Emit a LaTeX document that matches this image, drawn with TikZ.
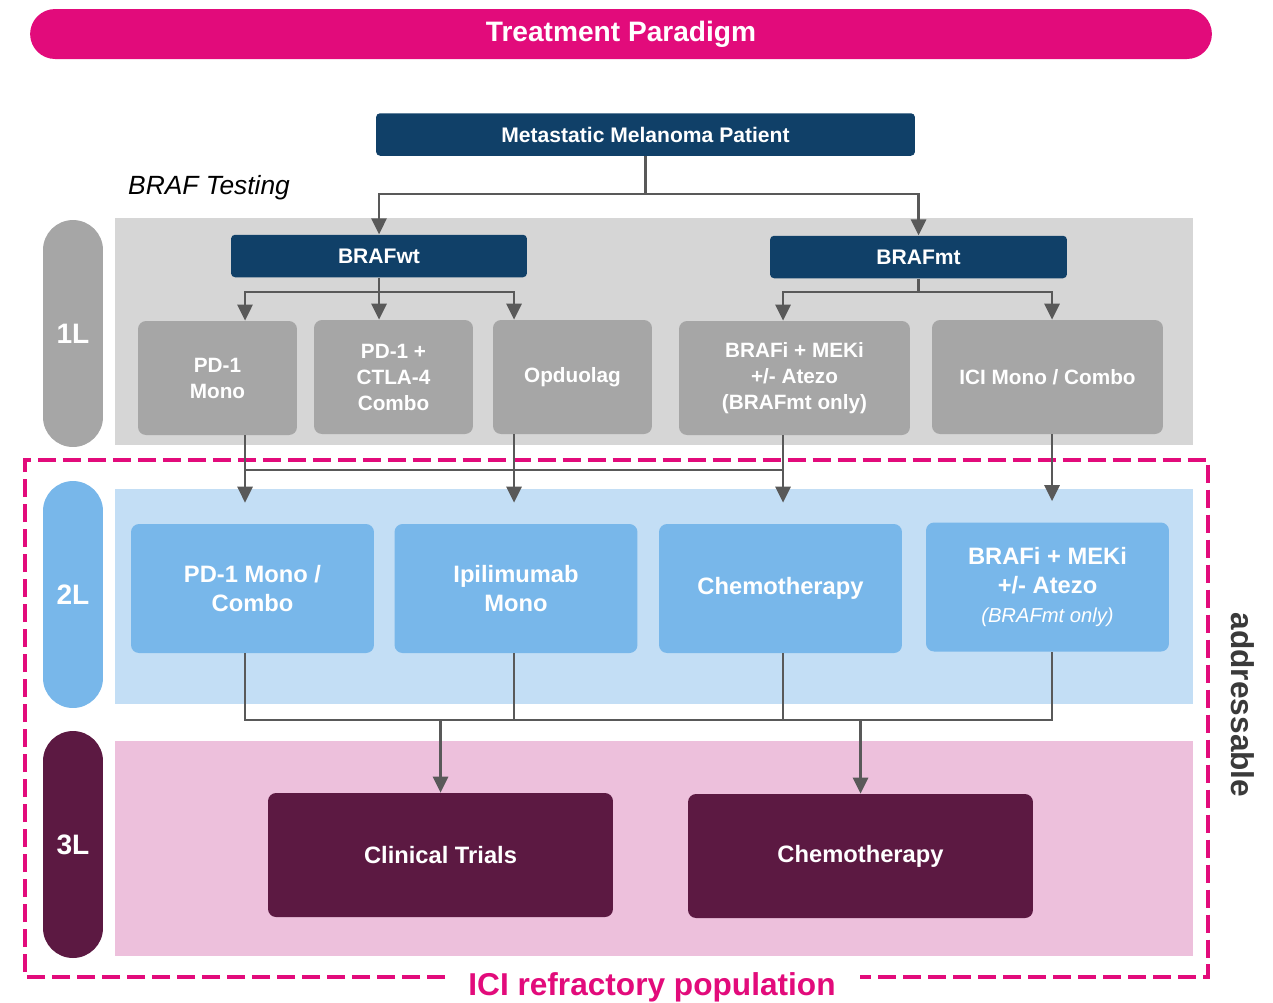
\documentclass[tikz,border=0pt]{standalone}
\usepackage{fontspec}
\setmainfont{Liberation Sans}
\usetikzlibrary{arrows.meta}
\definecolor{brandpink}{HTML}{E20B7B}
\definecolor{deepblue}{HTML}{104068}
\definecolor{panelgray}{HTML}{D6D6D6}
\definecolor{boxgray}{HTML}{A6A6A6}
\definecolor{panelblue}{HTML}{C3DEF5}
\definecolor{boxblue}{HTML}{78B7EA}
\definecolor{panelpink}{HTML}{EDC0DC}
\definecolor{plum}{HTML}{5C1942}
\definecolor{linegray}{HTML}{595959}
\definecolor{labelgray}{HTML}{3A3A3A}
\begin{document}
\begin{tikzpicture}[x=0.02cm, y=-0.02cm, >={Triangle[length=0.32cm,width=0.3cm]},
	head/.style={fill=deepblue, text=white, rounded corners=0.08cm, minimum height=0.85cm, font=\bfseries\fontsize{12}{14}\selectfont},
	first/.style={fill=boxgray, text=white, align=center, rounded corners=0.16cm, minimum width=3.18cm, minimum height=2.28cm, font=\bfseries\fontsize{11.8}{14.8}\selectfont},
	second/.style={fill=boxblue, text=white, align=center, rounded corners=0.16cm, minimum width=4.86cm, minimum height=2.58cm, font=\bfseries\fontsize{13.5}{16.5}\selectfont},
	third/.style={fill=plum, text=white, align=center, rounded corners=0.16cm, minimum width=6.9cm, minimum height=2.48cm, font=\bfseries\fontsize{13.5}{16.5}\selectfont},
	lvl/.style={text=white, rounded corners=0.6cm, minimum width=1.2cm, minimum height=4.54cm, font=\bfseries\fontsize{16}{18}\selectfont},
	link/.style={draw=linegray, line width=1.6pt},
	arr/.style={link, ->}]
	\useasboundingbox (0,0) rectangle (1273,1002);
	% panels
	\fill[panelgray] (115,218) rectangle (1193,445);
	\fill[panelblue] (115,489) rectangle (1193,704);
	\fill[panelpink] (115,741) rectangle (1193,956);
	\draw[brandpink, line width=2.4pt, dash pattern=on 0.36cm off 0.14cm] (445,977) -- (25,977) -- (25,460) -- (1208,460) -- (1208,977) -- (860,977);
	% titles
	\node[fill=brandpink, text=white, rounded corners=0.5cm, minimum width=23.64cm, minimum height=1cm, font=\bfseries\fontsize{16}{18}\selectfont] (title) at (621,34) {Treatment Paradigm};
	\node[head, minimum width=10.78cm] (patient) at (645.5,134.5) {Metastatic Melanoma Patient};
	\node[anchor=west, font=\itshape\fontsize{15}{18}\selectfont] (test) at (122,188) {BRAF Testing};
	\node[head, minimum width=5.92cm] (wt) at (379,256) {BRAFwt};
	\node[head, minimum width=5.94cm] (mt) at (918.5,257) {BRAFmt};
	% lines of therapy
	\node[lvl, fill=boxgray] (l1) at (73,333.5) {1L};
	\node[lvl, fill=boxblue] (l2) at (73,594.5) {2L};
	\node[lvl, fill=plum] (l3) at (73,844.5) {3L};
	\node[first] (pd1) at (217.5,378) {PD-1\\Mono};
	\node[first] (combo) at (393.5,377) {PD-1 +\\CTLA-4\\Combo};
	\node[first] (opdu) at (572.5,377) {Opduolag};
	\node[first, minimum width=4.62cm] (brafi) at (794.5,378) {BRAFi + MEKi\\+/- Atezo\\(BRAFmt only)};
	\node[first, minimum width=4.62cm] (ici) at (1047.5,377) {ICI Mono / Combo};
	\node[second] (pdc) at (252.5,588.5) {PD-1 Mono /\\Combo};
	\node[second] (ipi) at (516,588.5) {Ipilimumab\\Mono};
	\node[second] (chemo2) at (780.5,588.5) {Chemotherapy};
	\node[second] (brafi2) at (1047.5,587) {BRAFi + MEKi\\+/- Atezo\\{\mdseries\itshape\fontsize{11.5}{13}\selectfont(BRAFmt only)}};
	\node[third] (trials) at (440.5,855) {Clinical Trials};
	\node[third] (chemo3) at (860.5,856) {Chemotherapy};
	\node[rotate=-90, text=labelgray, font=\bfseries\fontsize{18}{20}\selectfont] (addr) at (1243,705) {addressable};
	\node[text=brandpink, font=\bfseries\fontsize{18}{20}\selectfont] (refr) at (652,987) {ICI refractory population};
	% junctions
	\coordinate (t0) at (645.5,194);
	\coordinate (t1) at (379,292);
	\coordinate (t2) at (918.5,292);
	\coordinate (ca) at (245,470);
	\coordinate (cb) at (514,470);
	\coordinate (cc) at (783,470);
	\coordinate (cd) at (1052,470);
	\coordinate (da) at (245,720);
	\coordinate (dd) at (1052,720);
	\coordinate (d1) at (440.5,720);
	\coordinate (d2) at (860.5,720);
	% connectors
	\draw[link] (patient) -- (t0);
	\draw[arr] (t0) -| (wt);
	\draw[arr] (t0) -| (mt);
	\draw[link] (wt) -- (t1);
	\draw[arr] (t1) -| (pd1.north -| ca);
	\draw[arr] (t1) -- (combo.north -| t1);
	\draw[arr] (t1) -| (opdu.north -| cb);
	\draw[link] (mt) -- (t2);
	\draw[arr] (t2) -| (brafi.north -| cc);
	\draw[arr] (t2) -| (ici.north -| cd);
	\draw[link] (ca) -- (cc);
	\draw[arr, shorten >=0.42cm] (pd1.south -| ca) -- (pdc.north -| ca);
	\draw[arr, shorten >=0.42cm] (opdu.south -| cb) -- (ipi.north -| cb);
	\draw[arr, shorten >=0.42cm] (brafi.south -| cc) -- (chemo2.north -| cc);
	\draw[arr, shorten >=0.42cm] (ici.south -| cd) -- (brafi2.north -| cd);
	\draw[link] (pdc.south -| da) -- (da) -- (dd) -- (brafi2.south -| dd);
	\draw[link] (ipi.south -| cb) -- (cb |- da);
	\draw[link] (chemo2.south -| cc) -- (cc |- da);
	\draw[arr] (d1) -- (trials);
	\draw[arr] (d2) -- (chemo3);
\end{tikzpicture}
\end{document}
